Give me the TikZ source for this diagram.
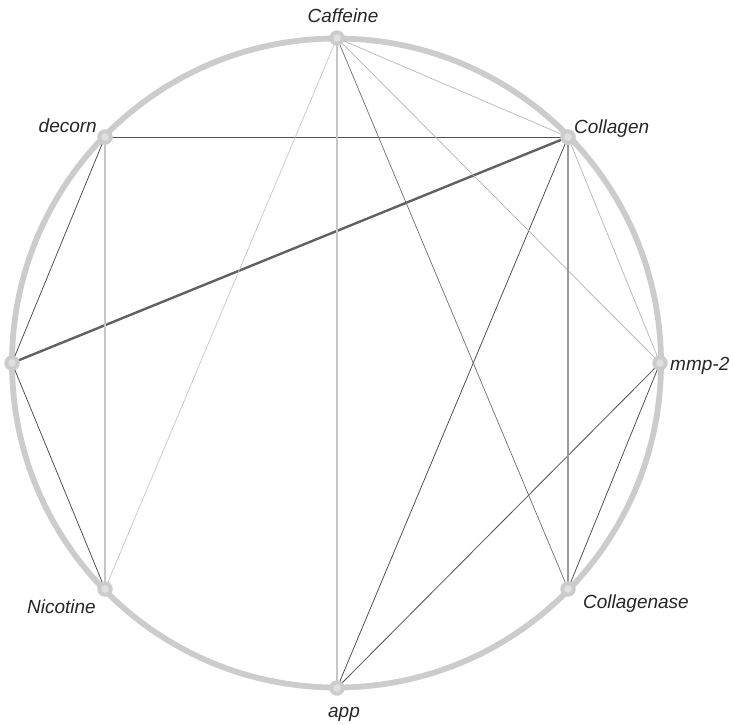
\documentclass[tikz,border=0pt]{standalone}
\usepackage{fontspec}
\setmainfont{Liberation Sans}
\pgfdeclarelayer{bg}
\pgfdeclarelayer{ringlayer}
\pgfsetlayers{ringlayer,bg,main}
\definecolor{ringgray}{HTML}{CCCCCC}
\definecolor{innergray}{HTML}{E0E0E0}
\definecolor{darkedge}{HTML}{505050}
\definecolor{lightedge}{HTML}{B4B4B4}
\definecolor{midedge}{HTML}{9A9A9A}
\definecolor{pale}{HTML}{C6C6C6}
\tikzset{
  dot/.style={circle, fill=ringgray, minimum size=15.5pt, inner sep=0pt,
    path picture={\fill[innergray] (path picture bounding box.center) circle (3.8pt);}},
  lab/.style={font=\fontsize{19}{22}\selectfont\itshape, inner sep=0pt, text=black!85},
  dark/.style={draw=darkedge, line width=0.8pt},
  thick edge/.style={draw=darkedge!90, line width=2.4pt},
  light/.style={draw=lightedge, line width=0.7pt},
  lighter/.style={draw=pale, line width=0.7pt},
  vert/.style={draw=pale, line width=1.3pt},
  midv/.style={draw=midedge, line width=1.4pt},
  medium/.style={draw=black!55, line width=0.75pt},
}
\begin{document}
\begin{tikzpicture}[x=1pt,y=-1pt]
\useasboundingbox (0,0) rectangle (733,724);
\coordinate (ctr) at (336.5,363);
\node[dot] (caf) at (337,38) {};
\node[dot] (col) at (568,137) {};
\node[dot] (dec) at (105,137) {};
\node[dot] (lft) at (12,363) {};
\node[dot] (mmp) at (660,363) {};
\node[dot] (nic) at (105,589) {};
\node[dot] (cse) at (568,589) {};
\node[dot] (app) at (337,688) {};
\begin{pgfonlayer}{ringlayer}
\draw[ringgray, line width=5.8pt] (ctr) circle (324.5);
\end{pgfonlayer}
\begin{pgfonlayer}{bg}
\draw[thick edge] (lft.center) -- (col.center);
\draw[dark] (dec.center) -- (col.center);
\draw[dark] (dec.center) -- (lft.center);
\draw[dark] (lft.center) -- (nic.center);
\draw[dark] (col.center) -- (app.center);
\draw[dark] (mmp.center) -- (app.center);
\draw[dark] (mmp.center) -- (cse.center);
\draw[medium] (caf.center) -- (cse.center);
\draw[light] (caf.center) -- (col.center);
\draw[light] (caf.center) -- (mmp.center);
\draw[light] (col.center) -- (mmp.center);
\draw[lighter] (caf.center) -- (nic.center);
\draw[vert] (caf.center) -- (app.center);
\draw[vert] (dec.center) -- (nic.center);
\draw[midv] (col.center) -- (cse.center);
\end{pgfonlayer}
\node[lab, anchor=base] (lcaf) at (343,22) {Caffeine};
\node[lab, anchor=base west] (lcol) at (574,133) {Collagen};
\node[lab, anchor=base east] (ldec) at (97,132) {decorn};
\node[lab, anchor=base west] (lmmp) at (670,370) {mmp-2};
\node[lab, anchor=base east] (lnic) at (96,613) {Nicotine};
\node[lab, anchor=base west] (lcse) at (583,608) {Collagenase};
\node[lab, anchor=base] (lapp) at (344,717) {app};
\end{tikzpicture}
\end{document}
